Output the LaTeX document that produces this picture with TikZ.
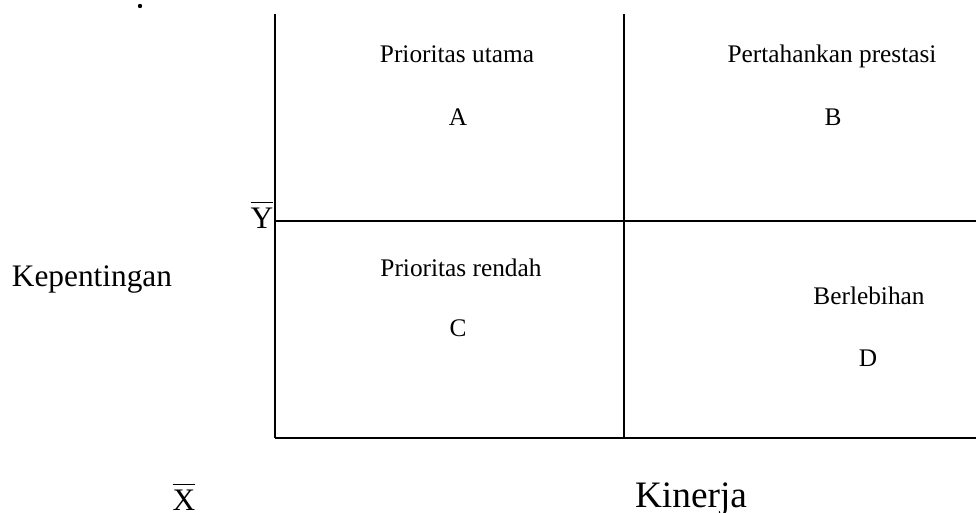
\documentclass[tikz,border=0pt]{standalone}
\usepackage{fontspec}
\setmainfont{Liberation Serif}
\newcommand{\barred}[1]{$\overline{\hbox{\rule{0pt}{18.5pt}#1}}$}
\begin{document}
\begin{tikzpicture}[x=0.75pt,y=-0.75pt,
  axis/.style={line width=1.4pt,black},
  quadtext/.style={anchor=base,inner sep=0pt,font=\fontsize{19}{22}\selectfont},
  bigtext/.style={anchor=base,inner sep=0pt,font=\fontsize{23.5}{27}\selectfont}]
\useasboundingbox (0,0) rectangle (976,513);
% grid corners
\coordinate (tl) at (275,14);
\coordinate (tm) at (624,14);
\coordinate (ml) at (275,221);
\coordinate (mr) at (976,221);
\coordinate (bl) at (275,438);
\coordinate (bm) at (624,438);
\coordinate (br) at (976,438);
\draw[axis] (tl) -- (bl);
\draw[axis] (tm) -- (bm);
\draw[axis] (ml) -- (mr);
\draw[axis] (bl) -- (br);
% stray dot
\fill (140,6) circle (2.2);
% quadrant labels
\node[quadtext] (qa) at (457,63) {Prioritas utama};
\node[quadtext] (la) at (458,126) {A};
\node[quadtext] (qb) at (832,63) {Pertahankan prestasi};
\node[quadtext] (lb) at (833,126) {B};
\node[quadtext] (qc) at (461,277) {Prioritas rendah};
\node[quadtext] (lc) at (458,337) {C};
\node[quadtext] (qd) at (869,305) {Berlebihan};
\node[quadtext] (ld) at (868,367) {D};
% axis labels
\node[bigtext] (ylab) at (92,287) {Kepentingan};
\node[bigtext,font=\fontsize{28}{32}\selectfont] (xlab) at (691,508) {Kinerja};
\node[bigtext] (ybar) at (262,229) {\barred{Y}};
\node[bigtext] (xbar) at (184,511) {\barred{X}};
\end{tikzpicture}
\end{document}
